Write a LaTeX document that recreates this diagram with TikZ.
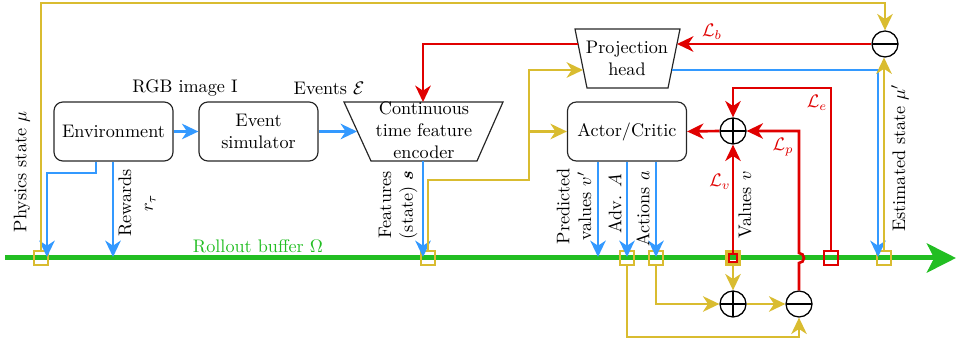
\documentclass[tikz,border=0pt]{standalone}
\usetikzlibrary{arrows.meta}
\usepackage{bm}
\definecolor{ylw}{RGB}{217,188,48}
\definecolor{blu}{RGB}{51,153,255}
\definecolor{rd}{RGB}{224,0,0}
\definecolor{grn}{RGB}{34,190,34}
\begin{document}
\begin{tikzpicture}[x=0.55pt,y=-0.55pt,
 box/.style={draw=black!85, rounded corners=5pt, line width=0.65pt, minimum width=65.5pt, minimum height=32.5pt, align=center, inner sep=0pt},
 ln/.style={line width=1.45pt},
 yl/.style={ln, draw=ylw},
 bl/.style={ln, draw=blu},
 rl/.style={ln, draw=rd},
 tip/.style={-{Stealth[length=9pt,width=8.5pt,inset=2.8pt]}},
 circ/.style={circle, draw=black, line width=0.7pt, minimum size=14.3pt, inner sep=0pt, fill=white},
 plus/.style={circ, path picture={\draw[line width=0.7pt] (path picture bounding box.north) -- (path picture bounding box.south) (path picture bounding box.west) -- (path picture bounding box.east);}},
 minus/.style={circ, path picture={\draw[line width=0.7pt] (path picture bounding box.west) -- (path picture bounding box.east);}},
 sqy/.style={draw=ylw, line width=1.1pt, minimum size=7.6pt, inner sep=0pt},
 sqr/.style={draw=rd, line width=1.1pt, minimum size=7.8pt, inner sep=0pt},
 lbl/.style={rotate=90, align=center, inner sep=0pt},
 rlbl/.style={text=rd, inner sep=0pt},
]
\useasboundingbox (0,0) rectangle (966,345);

% boxes
\node[box] (env) at (113.5,131.5) {Environment};
\node[box] (sim) at (258.5,131.5) {Event\\simulator};
\node[box] (ac) at (627,131.5) {Actor/Critic};
\draw[line width=0.65pt, black!85] (344,102) -- (503,102) -- (477,161) -- (371,161) -- cycle;
\node[align=center, inner sep=0pt] (enc) at (424,130) {Continuous\\time feature\\encoder};
\draw[line width=0.65pt, black!85] (575,29) -- (680,29) -- (668,88) -- (587,88) -- cycle;
\node[align=center, inner sep=0pt] (proj) at (627,58) {Projection\\head};
\coordinate (encT) at (423,102);
\coordinate (encL) at (357,131.5);
\coordinate (encB) at (423,161);
\coordinate (projL1) at (578,44);
\coordinate (projL2) at (583,70);
\coordinate (projR1) at (677,44);
\coordinate (projR2) at (672,70);

% green buffer line
\coordinate (gs) at (5,258);
\coordinate (ge) at (956,258);
\draw[grn, line width=2.75pt, -{Stealth[length=16pt,width=16pt,inset=4pt]}] (gs) -- (ge);
\node[text=grn, inner sep=0pt] (rb) at (258,246) {Rollout buffer $\Omega$};

% circles
\node[plus] (p1) at (733,131) {};
\node[minus] (m1) at (885,44) {};
\node[plus] (p2) at (733,304) {};
\node[minus] (m2) at (799,304) {};

% squares on the buffer
\node[sqy] (sqP) at (41,258) {};
\node[sqy] (sqF) at (428,258) {};
\node[sqy] (sqAd) at (627,258) {};
\node[sqy] (sqAc) at (656,258) {};
\node[sqy] (sqM) at (884,258) {};
\node[sqr] (sqE) at (831,258) {};
\node[draw=ylw, line width=2.2pt, minimum size=7pt, inner sep=0pt] (sqV) at (733,258) {};
\node[draw=rd, line width=1pt, minimum size=4.6pt, inner sep=0pt] (sqVr) at (733,258) {};

% blue connectors
\draw[bl,tip] (env.east) -- (sim.west);
\draw[bl,tip] (sim.east) -- (encL);
\draw[bl,tip] (env.south -| 96,0) -- (96,173) -- (47,173) -- (47,257);
\draw[bl,tip] (env.south -| 113,0) -- (113,257);
\draw[bl,tip] (encB) -- (423,257);
\draw[bl,tip] (ac.south -| 598,0) -- (598,257);
\draw[bl,tip] (ac.south -| 627,0) -- (627,257);
\draw[bl,tip] (ac.south -| 656,0) -- (656,257);
\draw[bl,tip] (projR2) -- (878,70) -- (878,257);

% yellow connectors
\coordinate (topY) at (0,3);
\draw[yl,tip] (sqP.north) -- (sqP.north |- topY) -| (m1.north);
\draw[yl,tip] (sqM.north) -- (884,57.5);
\draw[yl,tip] (sqF.north) -- (428,180) -- (529,180) -- (529,70) -- (projL2);
\draw[yl,tip] (529,131.5) -- (ac.west);
\draw[yl,tip] (sqV.south) -- (p2.north);
\draw[yl,tip] (sqAc.south) |- (p2.west);
\draw[yl,tip] (p2.east) -- (m2.west);
\draw[yl,tip] (sqAd.south) -- (627,337) -| (m2.south);

% red connectors
\draw[rl,tip] (p1.west) -- (ac.east);
\draw[rl,tip] (sqE.north) -- (831,88) -| (p1.north);
\draw[rl,tip] (m2.north) -- (799,263) arc[start angle=90, end angle=-90, radius=5] -- (799,131) -- (p1.east);
\draw[rl,tip] (sqVr.north) -- (p1.south);
\draw[rl,tip] (m1.west) -- (projR1);
\draw[rl,tip] (projL1) -- (423,44) -- (encT);

% labels
\node[inner sep=0pt] (lrgb) at (185,88) {RGB image $\mathrm{I}$};
\node[inner sep=0pt] (lev) at (329,88) {Events $\mathcal{E}$};
\node[lbl] (lphys) at (22,172) {Physics state $\mu$};
\node[lbl] (lrew) at (137,203) {Rewards\\$r_\tau$};
\node[lbl] (lfeat) at (398,205) {Features\\(state) $\bm{s}$};
\node[lbl] (lpred) at (574,206) {Predicted\\values $v'$};
\node[lbl] (ladv) at (615,204) {Adv. $A$};
\node[lbl] (lact) at (643,209) {Actions $a$};
\node[lbl] (lval) at (745,205) {Values $v$};
\node[lbl] (lest) at (900,158) {Estimated state $\mu'$};
\node[rlbl] (lv) at (720,182) {$\mathcal{L}_v$};
\node[rlbl] (lp) at (783,147) {$\mathcal{L}_p$};
\node[rlbl] (le) at (817,103) {$\mathcal{L}_e$};
\node[rlbl] (lb) at (712,32) {$\mathcal{L}_b$};
\end{tikzpicture}
\end{document}
